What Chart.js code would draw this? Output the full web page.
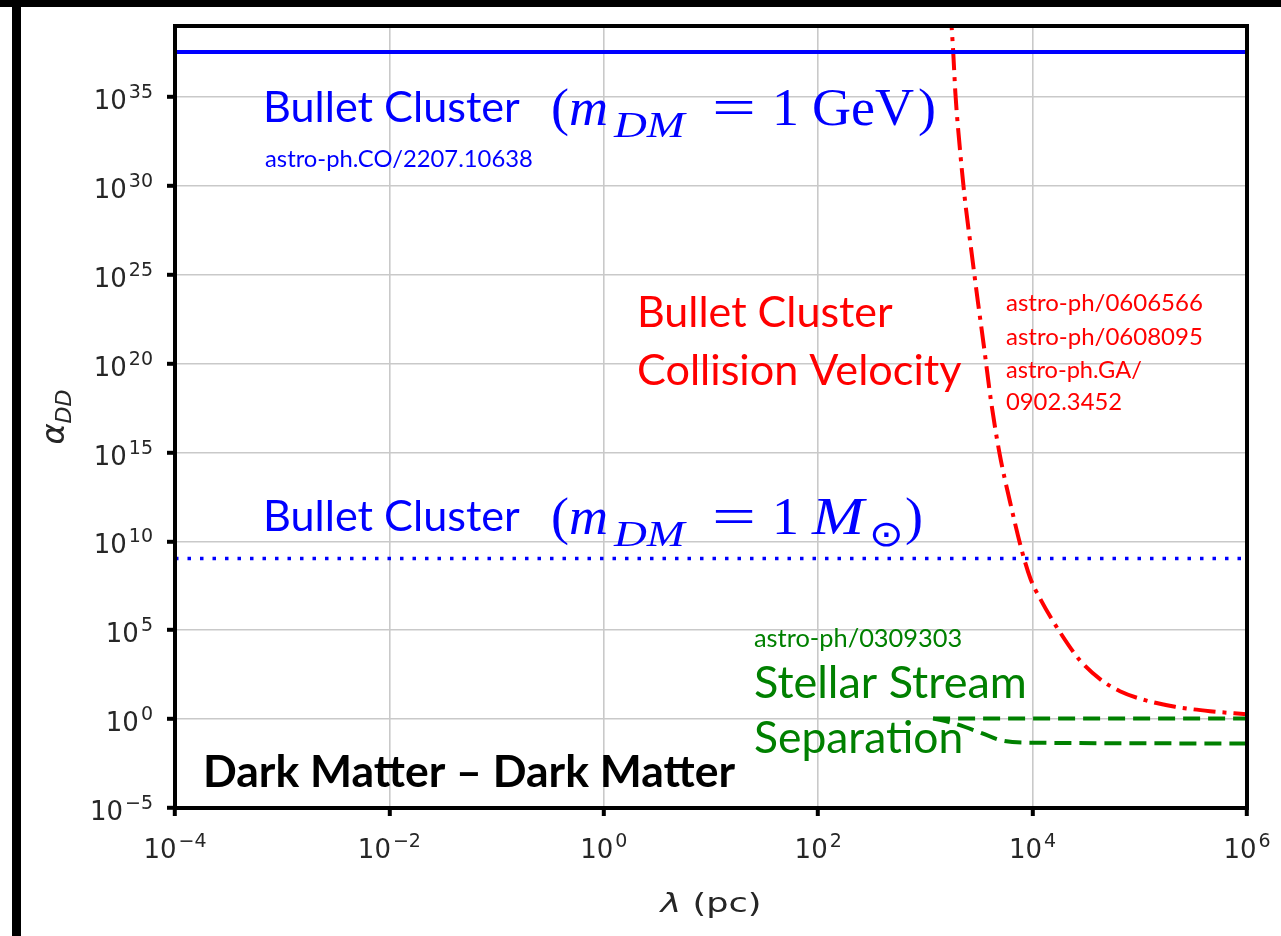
<!DOCTYPE html>
<html>
<head>
<meta charset="utf-8">
<script src="https://cdn.jsdelivr.net/npm/chart.js@4.4.1/dist/chart.umd.min.js"></script>
<style>
  html, body { margin: 0; padding: 0; background: #fff; }
  #wrap { position: relative; width: 1281px; height: 936px; overflow: hidden; background: #fff; }
  #wrap canvas { position: absolute; left: 0; top: 0; }
  .bar { position: absolute; background: #000; }
</style>
</head>
<body>
<div id="wrap">
  <canvas id="chart" width="1281" height="936"></canvas>
  <div class="bar" style="left:0;top:0;width:1281px;height:7px"></div>
  <div class="bar" style="left:12px;top:0;width:9px;height:936px"></div>
</div>
<script>
// axis ranges and ticks (lambda in pc, alpha_DD dimensionless)
const xRange = [1e-4, 1e6];
const yRange = [1e-5, 1e39];
const xTicks = [1e-4, 1e-2, 1e0, 1e2, 1e4, 1e6];
const yTicks = [1e-5, 1e0, 1e5, 1e10, 1e15, 1e20, 1e25, 1e30, 1e35];

// Bullet Cluster, m_DM = 1 GeV (flat bound)
const gevLambda = [1e-4, 1e6];
const gevAlpha = [3.4e37, 3.4e37];

// Bullet Cluster, m_DM = 1 solar mass (flat bound)
const solarLambda = [1e-4, 1e6];
const solarAlpha = [1.1e9, 1.1e9];

// Bullet Cluster collision velocity
const velocityLambda = [1710, 1820, 1905, 2090, 2340, 2690, 3090, 3550, 4070, 4900, 6170,
                        7940, 9550, 11700, 18000, 27700, 42600, 65300, 112000, 213000, 452000, 1000000];
const velocityAlpha = [1e40, 3e37, 1.6e35, 1.6e32, 1.6e29, 2e26, 3e23, 6e20, 1e18, 1e15, 1.6e12,
                       3e9, 8e7, 6.3e6, 7.8e4, 2.0e3, 178, 37, 11.7, 5.0, 2.8, 1.9];

// stellar stream separation, two branches
const streamUpperLambda = [1180, 1e6];
const streamUpperAlpha = [1.1, 1.1];
const streamLowerLambda = [1180, 1800, 3400, 5000, 10000, 1e6];
const streamLowerAlpha = [1.1, 0.6, 0.16, 0.066, 0.047, 0.043];

const pts = (xs, ys) => xs.map((x, i) => ({ x: x, y: ys[i] }));

const AXIS_INK = '#262626';
const BASE_FONT = '26px "DejaVu Sans"';
const SUP_FONT = '19px "DejaVu Sans"';

// "10" with a raised exponent
function powerLabel(ctx, value, x, y, align) {
  const exp = Math.round(Math.log10(value));
  const sup = exp < 0 ? '\u2212' + Math.abs(exp) : String(exp);
  ctx.font = BASE_FONT;
  const wBase = ctx.measureText('10').width;
  ctx.font = SUP_FONT;
  const wSup = ctx.measureText(sup).width;
  const total = wBase + 2 + wSup;
  const x0 = align === 'right' ? x - total : x - total / 2;
  ctx.font = BASE_FONT;
  ctx.fillText('10', x0, y);
  ctx.font = SUP_FONT;
  ctx.fillText(sup, x0 + wBase + 2, y - 11);
}

// sans label sized to a given width
function fitted(ctx, text, x, y, width, color, weight) {
  ctx.font = `${weight} 100px Lato`;
  const size = 100 * width / ctx.measureText(text).width;
  ctx.font = `${weight} ${size.toFixed(1)}px Lato`;
  ctx.fillStyle = color;
  ctx.fillText(text, x, y);
}

// serif formula: pieces are [text, dx, italic, subscript, widen]
function formula(ctx, pieces, x, y, size, color) {
  ctx.fillStyle = color;
  pieces.forEach(([t, dx, it, sub, sx]) => {
    ctx.font = `${it ? 'italic ' : ''}${((sub ? 0.7 : 1) * size).toFixed(1)}px "Liberation Serif"`;
    ctx.save();
    ctx.translate(x + dx, y + (sub ? 0.24 * size : 0));
    ctx.scale(sx || 1.04, 1);
    ctx.fillText(t, 0, 0);
    ctx.restore();
  });
}

const decor = {
  id: 'decor',
  afterDatasetsDraw(chart) {
    const { ctx, chartArea: a, scales } = chart;
    ctx.save();
    ctx.strokeStyle = '#000';
    ctx.lineWidth = 4;
    ctx.strokeRect(a.left, a.top, a.right - a.left, a.bottom - a.top);

    ctx.fillStyle = AXIS_INK;
    ctx.textBaseline = 'alphabetic';
    ctx.textAlign = 'left';
    scales.y.ticks.forEach(t => powerLabel(ctx, t.value, 153, scales.y.getPixelForValue(t.value) + 12, 'right'));
    scales.x.ticks.forEach(t => powerLabel(ctx, t.value, scales.x.getPixelForValue(t.value), a.bottom + 50, 'center'));

    // x title: lambda (pc)
    ctx.save();
    ctx.translate((a.left + a.right) / 2, 912);
    ctx.scale(1.3, 1);
    ctx.font = 'italic 27px "DejaVu Sans"';
    const wl = ctx.measureText('\u03bb').width;
    ctx.font = '27px "DejaVu Sans"';
    const wr = ctx.measureText(' (pc)').width;
    const x0 = -(wl + wr) / 2;
    ctx.font = 'italic 27px "DejaVu Sans"';
    ctx.fillText('\u03bb', x0, 0);
    ctx.font = '27px "DejaVu Sans"';
    ctx.fillText(' (pc)', x0 + wl, 0);
    ctx.restore();

    // y title: alpha_DD
    ctx.translate(64, (a.top + a.bottom) / 2);
    ctx.rotate(-Math.PI / 2);
    ctx.font = 'italic 32px "DejaVu Sans"';
    const wa = ctx.measureText('\u03b1').width;
    ctx.font = 'italic 22px "DejaVu Sans"';
    const wd = ctx.measureText('DD').width;
    const y0 = -(wa + wd) / 2;
    ctx.font = 'italic 32px "DejaVu Sans"';
    ctx.fillText('\u03b1', y0, 0);
    ctx.font = 'italic 22px "DejaVu Sans"';
    ctx.fillText('DD', y0 + wa, 7);
    ctx.restore();
  },
  afterDraw(chart) {
    const ctx = chart.ctx;
    ctx.save();
    ctx.textAlign = 'left';
    ctx.textBaseline = 'alphabetic';
    const blue = '#0000ff', red = '#ff0000', green = '#008000';

    fitted(ctx, 'Bullet Cluster', 263, 122, 257, blue, 'normal');
    formula(ctx, [['(', 0, false, false], ['m', 18, true, false], ['DM', 63, true, true, 1.25],
                  ['=', 161, false, false, 1.5], ['1', 221, false, false], ['GeV', 261, false, false],
                  [')', 367, false, false]],
            551, 125, 52, blue);
    fitted(ctx, 'astro-ph.CO/2207.10638', 265, 167, 268, blue, 'normal');

    fitted(ctx, 'Bullet Cluster', 263, 531, 257, blue, 'normal');
    formula(ctx, [['(', 0, false, false], ['m', 18, true, false], ['DM', 63, true, true, 1.25],
                  ['=', 161, false, false, 1.5], ['1', 221, false, false], ['M', 261, true, false, 1.2],
                  ['\u2299', 318, false, true, 1.15], [')', 354, false, false]],
            551, 534, 52, blue);

    fitted(ctx, 'Bullet Cluster', 637, 327, 256, red, 'normal');
    fitted(ctx, 'Collision Velocity', 637, 385, 325, red, 'normal');
    fitted(ctx, 'astro-ph/0606566', 1006, 311, 197, red, 'normal');
    fitted(ctx, 'astro-ph/0608095', 1006, 345, 197, red, 'normal');
    fitted(ctx, 'astro-ph.GA/', 1006, 378, 136, red, 'normal');
    fitted(ctx, '0902.3452', 1006, 410, 116, red, 'normal');

    fitted(ctx, 'astro-ph/0309303', 754, 647, 208, green, 'normal');
    fitted(ctx, 'Stellar Stream', 754, 698, 273, green, 'normal');
    fitted(ctx, 'Separation', 754, 753, 209, green, 'normal');

    fitted(ctx, 'Dark Matter \u2013 Dark Matter', 203, 787, 532, '#000', 'bold');
    ctx.restore();
  }
};

const line = (data, color, width, dash, smooth) => ({
  data: data,
  borderColor: color,
  borderWidth: width,
  borderDash: dash,
  borderCapStyle: 'butt',
  pointRadius: 0,
  fill: false,
  cubicInterpolationMode: smooth ? 'monotone' : 'default',
  tension: 0
});

new Chart(document.getElementById('chart'), {
  type: 'line',
  data: {
    datasets: [
      line(pts(gevLambda, gevAlpha), '#0000ff', 4, [], false),
      line(pts(solarLambda, solarAlpha), '#0000ff', 3.5, [3.5, 9], false),
      line(pts(velocityLambda, velocityAlpha), '#ff0000', 4, [22, 7, 4, 7], true),
      line(pts(streamUpperLambda, streamUpperAlpha), '#008000', 4, [17, 8], false),
      line(pts(streamLowerLambda, streamLowerAlpha), '#008000', 4, [17, 8], true)
    ]
  },
  options: {
    responsive: false,
    animation: false,
    layout: { padding: { top: 26, right: 34, left: 0, bottom: 0 } },
    plugins: { legend: { display: false }, tooltip: { enabled: false } },
    scales: {
      x: {
        type: 'logarithmic',
        min: xRange[0],
        max: xRange[1],
        afterBuildTicks: s => { s.ticks = xTicks.map(v => ({ value: v })); },
        afterFit: s => { s.height = 128; },
        ticks: { display: false },
        border: { display: false },
        grid: { color: '#c9c9c9', lineWidth: 1.6, tickColor: '#000', tickWidth: 4, tickLength: 8 }
      },
      y: {
        type: 'logarithmic',
        min: yRange[0],
        max: yRange[1],
        afterBuildTicks: s => { s.ticks = yTicks.map(v => ({ value: v })); },
        afterFit: s => { s.width = 175; },
        ticks: { display: false },
        border: { display: false },
        grid: { color: '#c9c9c9', lineWidth: 1.6, tickColor: '#000', tickWidth: 4, tickLength: 8 }
      }
    }
  },
  plugins: [decor]
});
</script>
</body>
</html>
